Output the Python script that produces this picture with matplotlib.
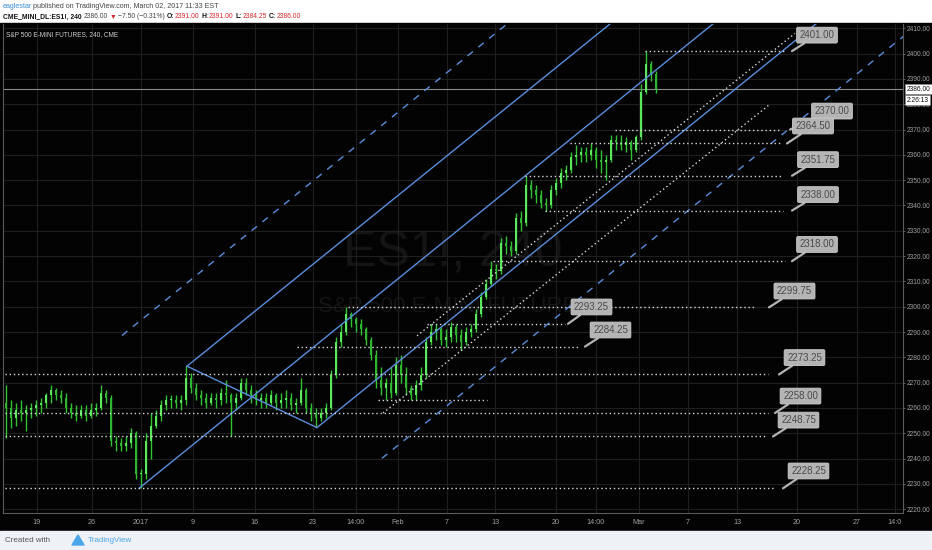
import matplotlib
matplotlib.use('Agg')
import matplotlib.pyplot as plt
from matplotlib.patches import Rectangle, Polygon
import matplotlib.transforms as mtransforms

plt.rcParams['font.family'] = ['Liberation Sans', 'DejaVu Sans']

# ES1! 240 bars (one bar every ~5 px)
highs = [2269, 2263, 2262, 2263, 2261, 2262, 2263, 2264, 2266, 2269,
         2268, 2267, 2266, 2262, 2261, 2261, 2261, 2262, 2262, 2269,
         2267, 2265, 2249, 2248, 2249, 2252, 2251, 2236, 2250, 2258,
         2259, 2263, 2265, 2265, 2265, 2265, 2276.75, 2274, 2270, 2267,
         2266, 2266, 2266, 2268, 2271, 2266, 2266, 2272, 2272, 2269,
         2267, 2266, 2266, 2267, 2266, 2266, 2267, 2266, 2264, 2272,
         2268, 2262, 2260, 2260, 2262, 2275, 2288, 2293, 2299.75, 2298,
         2296, 2295, 2292, 2288, 2283, 2276, 2272, 2276, 2280, 2281,
         2276, 2269, 2271, 2276, 2288, 2293, 2293, 2292, 2291, 2294,
         2293, 2291, 2292, 2293, 2299, 2306, 2311, 2318, 2317, 2327,
         2328, 2326, 2337, 2338, 2351.75, 2350, 2348, 2346, 2343, 2348,
         2351, 2355, 2356, 2361, 2364, 2363, 2363, 2364.5, 2363, 2362,
         2360, 2368, 2368, 2368, 2367, 2366, 2368, 2388, 2401, 2397,
         2393]
lows = [2248, 2252, 2253, 2255, 2251, 2256, 2257, 2258, 2260, 2262,
        2263, 2262, 2258, 2256, 2255, 2256, 2255, 2256, 2257, 2259,
        2262, 2245, 2243, 2243, 2243, 2244, 2232, 2228.25, 2232, 2240,
        2252, 2255, 2259, 2260, 2260, 2259, 2261, 2266, 2263, 2261,
        2260, 2261, 2260, 2261, 2262, 2248.75, 2259, 2263, 2265, 2262,
        2261, 2260, 2260, 2261, 2259, 2260, 2260, 2259, 2258, 2261,
        2258, 2255, 2252.5, 2255, 2256, 2259, 2272, 2284, 2289, 2292,
        2290, 2289, 2285, 2279, 2268, 2265, 2263, 2264, 2265, 2270,
        2265, 2263, 2263, 2267, 2272, 2285, 2287, 2285, 2284.25, 2286,
        2286, 2283, 2285, 2288, 2290, 2296, 2303, 2308, 2311, 2313,
        2321, 2320, 2321, 2330, 2332, 2343, 2341, 2339, 2338, 2339,
        2344, 2347, 2350, 2353, 2356, 2357, 2357, 2358, 2355, 2353,
        2350, 2357, 2362, 2362, 2361, 2358, 2361, 2366, 2384, 2389,
        2384.25]
closes = [2260, 2256, 2259, 2258, 2259, 2260, 2261, 2262, 2265, 2267,
          2265, 2264, 2260, 2258, 2257, 2259, 2257, 2259, 2260, 2266,
          2264, 2247, 2246, 2245, 2246, 2250, 2234, 2234, 2247, 2253,
          2257, 2261, 2263, 2263, 2262, 2263, 2272, 2268, 2265, 2264,
          2262, 2264, 2263, 2266, 2265, 2262, 2264, 2270, 2267, 2265,
          2263, 2264, 2262, 2265, 2262, 2263, 2264, 2261, 2262, 2267,
          2260, 2258, 2256, 2258, 2260, 2273, 2286, 2290, 2297, 2295,
          2293, 2291, 2287, 2281, 2271, 2268, 2270, 2266, 2277, 2273,
          2268, 2265, 2269, 2273, 2286, 2290, 2291, 2287, 2288, 2292,
          2289, 2286, 2290, 2291, 2297, 2304, 2309, 2315, 2314, 2325,
          2324, 2322, 2335, 2333, 2348, 2346, 2344, 2341, 2340, 2346,
          2349, 2353, 2354, 2359, 2360, 2361, 2360, 2362, 2358, 2357,
          2358, 2366, 2365, 2364, 2365, 2362, 2367, 2385, 2396, 2392,
          2386]
first_open = 2262

tick_pos = [6.2, 17.2, 27, 37.4, 49.8, 61.4, 70, 78.4, 88.2, 97.8,
            110, 118, 126.6, 136.4, 146.2, 158.2, 170.2, 177.8]
tick_labels = ['19', '26', '2017', '9', '16', '23', '14:00', 'Feb', '7', '13',
               '20', '14:00', 'Mar', '7', '13', '20', '27', '14:0']

# pitchfork: handle, then the two prongs (bar, price)
fork_handle = (26.6, 2228.25)
fork_a = (36.2, 2276.5)
fork_b = (62.2, 2252.25)

# dotted trend channel
chan_upper = [(82.2, 2288.5), (157.8, 2408.0)]
chan_lower = [(75.4, 2258.0), (152.8, 2380.0)]

# horizontal dotted levels
level_prices = [2401.0, 2370.0, 2364.5, 2351.75, 2338.0, 2318.0, 2299.75,
                2293.25, 2284.25, 2273.25, 2263.0, 2258.0, 2248.75, 2228.25]
level_start = [127.8, 121.8, 112.8, 103.8, 107.8, 97.4, 68.4,
               84.2, 58.2, -0.2, 74.4, -0.2, -0.2, -0.2]
level_end = [156.0, 155.0, 154.8, 155.4, 155.4, 155.8, 149.8,
             111.8, 114.8, 152.4, 96.2, 152.4, 151.8, 153.8]

# price callouts
callout_prices = [2401.0, 2370.0, 2364.5, 2351.75, 2338.0, 2318.0, 2299.75,
                  2293.25, 2284.25, 2273.25, 2258.0, 2248.75, 2228.25]
callout_tip_x = [157.2, 156.8, 156.2, 157.2, 157.2, 157.2, 152.6,
                 112.4, 115.8, 154.6, 153.8, 153.4, 155.4]
callout_box_x = [162.2, 165.2, 161.4, 162.4, 162.4, 162.2, 157.7,
                 117.1, 120.9, 159.7, 158.9, 158.5, 160.5]
callout_box_y = [2407.3, 2377.3, 2371.4, 2358.1, 2344.3, 2324.6, 2306.2,
                 2299.9, 2290.8, 2279.9, 2264.7, 2255.2, 2235.1]

last_price = 2386.0

W, H = 932, 550
fig = plt.figure(figsize=(W / 100, H / 100), dpi=100, facecolor='white')
fig.patches.append(Rectangle((0, 19 / H), 1, 508 / H, transform=fig.transFigure,
                             color='#030303', zorder=-5))
fig.patches.append(Rectangle((0, 0), 1, 19 / H, transform=fig.transFigure,
                             color='#eef1f5', zorder=-5))

ax = fig.add_axes([3 / W, 37 / H, 900 / W, 489 / H])
ax.set_facecolor('#030303')
ax.set_xlim(-0.6, 179.4)
ax.set_ylim(2218.5, 2411.7)

# grid
ax.set_yticks(range(2220, 2411, 10))
ax.set_yticklabels(['%.2f' % v for v in range(2220, 2411, 10)])
ax.set_xticks(tick_pos)
ax.set_xticklabels(tick_labels)
ax.grid(True, color='#1f1f1f', lw=0.8)
ax.set_axisbelow(True)
ax.yaxis.tick_right()
ax.tick_params(axis='y', colors='#6a6a6a', labelcolor='#a0a0a0', labelsize=4.8,
               length=1.5, pad=1, width=0.6)
ax.tick_params(axis='x', colors='#6a6a6a', labelcolor='#a0a0a0', labelsize=5.2,
               length=0, pad=4)
for side in ['left', 'right', 'bottom']:
    ax.spines[side].set_color('#5a5a5a')
    ax.spines[side].set_linewidth(0.8)
ax.spines['top'].set_visible(False)

# watermark
ax.text(0.5, 0.53, 'ES1!, 240', transform=ax.transAxes, fontsize=36,
        color='#141414', ha='center', va='center', zorder=0.5)
ax.text(0.502, 0.423, 'S&P 500 E-MINI FUTURES', transform=ax.transAxes, fontsize=16,
        color='#141414', ha='center', va='center', zorder=0.5)
ax.text(0.003, 0.985, 'S&P 500 E-MINI FUTURES, 240, CME', transform=ax.transAxes,
        fontsize=4.7, color='#d0d0d0', va='top', ha='left')

# candles
idx = list(range(len(closes)))
opens = [first_open] + closes[:-1]
ax.vlines(idx, lows, highs, color='#33c233', lw=1.0, zorder=3)
bottoms = [min(o, c) for o, c in zip(opens, closes)]
heights = [max(abs(c - o), 0.4) for o, c in zip(opens, closes)]
body_cols = ['#5ce85c' if c >= o else '#2fb52f' for o, c in zip(opens, closes)]
ax.bar(idx, heights, bottom=bottoms, width=0.55, color=body_cols, lw=0, zorder=3)

# last price line
ax.axhline(last_price, color='#8a8a8a', lw=0.8, zorder=2)

# pitchfork
blue = '#5a8ddc'
mid = ((fork_a[0] + fork_b[0]) / 2, (fork_a[1] + fork_b[1]) / 2)
slope = (mid[1] - fork_handle[1]) / (mid[0] - fork_handle[0])
x_far = 185
def ray(p, **kw):
    ax.plot([p[0], x_far], [p[1], p[1] + slope * (x_far - p[0])], **kw)
ray(fork_handle, color=blue, lw=1.0, zorder=4)
ray(fork_a, color=blue, lw=1.0, zorder=4)
ray(fork_b, color=blue, lw=1.0, zorder=4)
ax.plot([fork_a[0], fork_b[0]], [fork_a[1], fork_b[1]], color=blue, lw=1.0, zorder=4)
dx, dy = (fork_b[0] - fork_a[0]) / 2, (fork_b[1] - fork_a[1]) / 2
ray((fork_a[0] - dx, fork_a[1] - dy), color=blue, lw=1.0, ls=(0, (5, 5)), zorder=4)
ray((fork_b[0] + dx, fork_b[1] + dy), color=blue, lw=1.0, ls=(0, (5, 5)), zorder=4)

# dotted channel
dot = '#d8d8d8'
for seg in [chan_upper, chan_lower]:
    ax.plot([seg[0][0], seg[1][0]], [seg[0][1], seg[1][1]], color=dot, lw=1.0,
            ls=(0, (1, 2)), zorder=4)

# horizontal levels
for p, s, e in zip(level_prices, level_start, level_end):
    ax.plot([s, e], [p, p], color=dot, lw=1.0, ls=(0, (1, 2)), zorder=4)

# callouts
for p, tx, bx, by in zip(callout_prices, callout_tip_x, callout_box_x, callout_box_y):
    ax.annotate('%.2f' % p, xy=(tx, p), xytext=(bx, by), fontsize=7,
                color='#4a4a4a', ha='center', va='center', zorder=6,
                bbox=dict(boxstyle='round,pad=0.3,rounding_size=0.15',
                          fc='#b4b4b4', ec='#cdcdcd', lw=0.6),
                arrowprops=dict(arrowstyle='-', color='#b4b4b4', lw=1.6,
                                shrinkA=0, shrinkB=0))

# right scale price boxes
tr = mtransforms.blended_transform_factory(ax.transAxes, ax.transData)
ax.text(1.004, last_price, '2386.00', transform=tr, fontsize=4.8, color='#111111',
        va='center', ha='left', clip_on=False, zorder=10,
        bbox=dict(boxstyle='square,pad=0.25', fc='white', ec='#888888', lw=0.5))
ax.text(1.004, last_price - 4.4, '2:26:13', transform=tr, fontsize=4.8, color='#111111',
        va='center', ha='left', clip_on=False, zorder=10,
        bbox=dict(boxstyle='square,pad=0.25', fc='white', ec='#888888', lw=0.5))

# header, pieces laid out one after another
renderer = fig.canvas.get_renderer()
def chain(y, pieces, size, x0=3):
    x = x0
    for s, c, wgt, gap in pieces:
        t = fig.text(x / W, y, s, color=c, fontsize=size, fontweight=wgt, va='center')
        x = t.get_window_extent(renderer).x1 + gap

fy1, fy2 = 1 - 6 / H, 1 - 17 / H
chain(fy1, [('eaglestar', '#3b8ed6', 'normal', 1.2),
            ('published on TradingView.com, March 02, 2017 11:33 EST', '#444444', 'normal', 0)],
      size=5.1)
red = '#d9262b'
chain(fy2, [('CME_MINI_DL:ES1!, 240', '#111111', 'bold', 2.5),
            ('2386.00', '#444444', 'normal', 1.5), ('\u25bc', red, 'normal', 1.2),
            ('\u22127.50 (\u22120.31%)', '#444444', 'normal', 2.5),
            ('O:', '#111111', 'bold', 0), ('2391.00', red, 'normal', 2.5),
            ('H:', '#111111', 'bold', 0), ('2391.00', red, 'normal', 2.5),
            ('L:', '#111111', 'bold', 0), ('2384.25', red, 'normal', 2.5),
            ('C:', '#111111', 'bold', 0), ('2386.00', red, 'normal', 0)],
      size=4.9)

# footer
fig.text(5 / W, 1 - 540 / H, 'Created with', color='#555555', fontsize=5.8, va='center')
fig.patches.append(Polygon([[72 / W, 1 - 545 / H], [78 / W, 1 - 535 / H], [84 / W, 1 - 545 / H]],
                           closed=True, transform=fig.transFigure, color='#49a6e9', zorder=3))
fig.text(88 / W, 1 - 540 / H, 'TradingView', color='#49a6e9', fontsize=5.8, va='center')

fig.savefig('out.png', dpi=100, facecolor=fig.get_facecolor())
